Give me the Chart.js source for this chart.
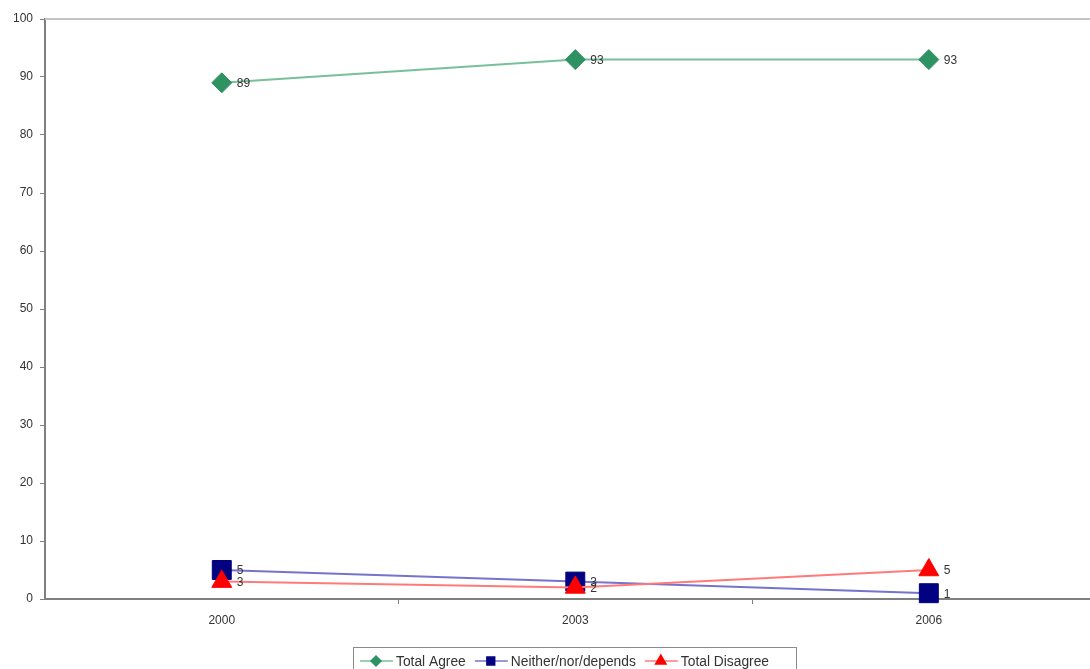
<!DOCTYPE html>
<html>
<head>
<meta charset="utf-8">
<script src="https://cdn.jsdelivr.net/npm/chart.js@4.4.1/dist/chart.umd.min.js"></script>
<style>
  html, body { margin: 0; padding: 0; background: #fff; overflow: hidden; }
  #chart { position: absolute; left: 0; top: 0; }
</style>
</head>
<body>
<canvas id="chart" width="1120" height="669"></canvas>
<script>
// dados do gráfico
const years = ["2000", "2003", "2006"];
const totalAgree = [89, 93, 93];
const neither = [5, 3, 1];
const totalDisagree = [3, 2, 5];
const seriesNames = ["Total Agree", "Neither/nor/depends", "Total Disagree"];

const FONT = "Arial, 'Liberation Sans', sans-serif";

// rótulos de valor à direita de cada ponto
const valueLabels = {
  id: "valueLabels",
  afterDatasetsDraw(chart) {
    const ctx = chart.ctx;
    ctx.save();
    ctx.font = "12px " + FONT;
    ctx.fillStyle = "#333";
    ctx.textBaseline = "middle";
    ctx.textAlign = "left";
    chart.data.datasets.forEach((ds, i) => {
      chart.getDatasetMeta(i).data.forEach((pt, j) => {
        ctx.fillText(ds.data[j], pt.x + 15, pt.y + 1);
      });
    });
    ctx.restore();
  }
};

// borda superior da área do gráfico
const topBorder = {
  id: "topBorder",
  beforeDatasetsDraw(chart) {
    const { ctx, chartArea } = chart;
    ctx.save();
    ctx.strokeStyle = "#c4c4c4";
    ctx.lineWidth = 2;
    ctx.beginPath();
    ctx.moveTo(chartArea.left, chartArea.top);
    ctx.lineTo(chartArea.right, chartArea.top);
    ctx.stroke();
    ctx.restore();
  }
};

// legenda estilo Excel (linha + marcador) dentro de uma caixa
const boxLegend = {
  id: "boxLegend",
  afterDraw(chart) {
    const ctx = chart.ctx;
    const boxX = 353.5, boxY = 647.5, boxW = 443, boxH = 30;
    ctx.save();
    ctx.fillStyle = "#fff";
    ctx.fillRect(boxX, boxY, boxW, boxH);
    ctx.strokeStyle = "#8a8a8a";
    ctx.lineWidth = 1;
    ctx.strokeRect(boxX, boxY, boxW, boxH);
    ctx.font = "13.8px " + FONT;
    ctx.textBaseline = "middle";
    let x = 360;
    const y = 661;
    chart.data.datasets.forEach((ds) => {
      ctx.strokeStyle = ds.borderColor;
      ctx.lineWidth = 1.5;
      ctx.beginPath();
      ctx.moveTo(x, y);
      ctx.lineTo(x + 33, y);
      ctx.stroke();
      ctx.fillStyle = ds.pointBackgroundColor;
      ctx.strokeStyle = ds.pointBackgroundColor;
      Chart.helpers.drawPoint(ctx, {
        pointStyle: ds.pointStyle,
        radius: ds.legendRadius,
        borderWidth: 1,
        rotation: 0
      }, x + 16, y);
      ctx.fillStyle = "#333";
      ctx.fillText(ds.label, x + 36, y + 1);
      x += 36 + ctx.measureText(ds.label).width + 9;
    });
    ctx.restore();
  }
};

new Chart(document.getElementById("chart"), {
  type: "line",
  data: {
    labels: years,
    datasets: [
      {
        label: seriesNames[0],
        data: totalAgree,
        borderColor: "#78c09a",
        borderWidth: 2,
        pointStyle: "rectRot",
        pointRadius: 10,
        pointBorderWidth: 1,
        pointBackgroundColor: "#2f9262",
        pointBorderColor: "#2f9262",
        legendRadius: 5,
        order: 3,
        clip: false
      },
      {
        label: seriesNames[1],
        data: neither,
        borderColor: "#7474cc",
        borderWidth: 2,
        pointStyle: "rect",
        pointRadius: 13.4,
        pointBorderWidth: 1,
        pointBackgroundColor: "#000080",
        pointBorderColor: "#000080",
        legendRadius: 5.5,
        order: 2,
        clip: false
      },
      {
        label: seriesNames[2],
        data: totalDisagree,
        borderColor: "#ff7a7a",
        borderWidth: 2,
        pointStyle: "triangle",
        pointRadius: 11.5,
        pointBorderWidth: 1,
        pointBackgroundColor: "#ff0000",
        pointBorderColor: "#ff0000",
        legendRadius: 6,
        order: 1,
        clip: false
      }
    ]
  },
  options: {
    responsive: false,
    maintainAspectRatio: false,
    animation: false,
    layout: { padding: { top: 19, left: 0, right: 0, bottom: 0 } },
    plugins: {
      legend: { display: false },
      tooltip: { enabled: false }
    },
    scales: {
      x: {
        offset: true,
        afterFit(scale) {
          scale.height = 70;
        },
        grid: {
          offset: true,
          drawOnChartArea: false,
          drawTicks: true,
          tickLength: 5,
          color: (c) => (c.index === 0 ? "rgba(0,0,0,0)" : "#808080")
        },
        border: { color: "#808080", width: 2 },
        ticks: {
          color: "#333",
          padding: 9,
          font: { family: FONT, size: 12 }
        }
      },
      y: {
        min: 0,
        max: 100,
        afterFit(scale) { scale.width = 45; },
        grid: {
          drawOnChartArea: false,
          drawTicks: true,
          tickLength: 5,
          color: "#808080"
        },
        border: { color: "#808080", width: 2 },
        ticks: {
          stepSize: 10,
          color: "#333",
          padding: 7,
          font: { family: FONT, size: 12 }
        }
      }
    }
  },
  plugins: [topBorder, valueLabels, boxLegend]
});
</script>
</body>
</html>
